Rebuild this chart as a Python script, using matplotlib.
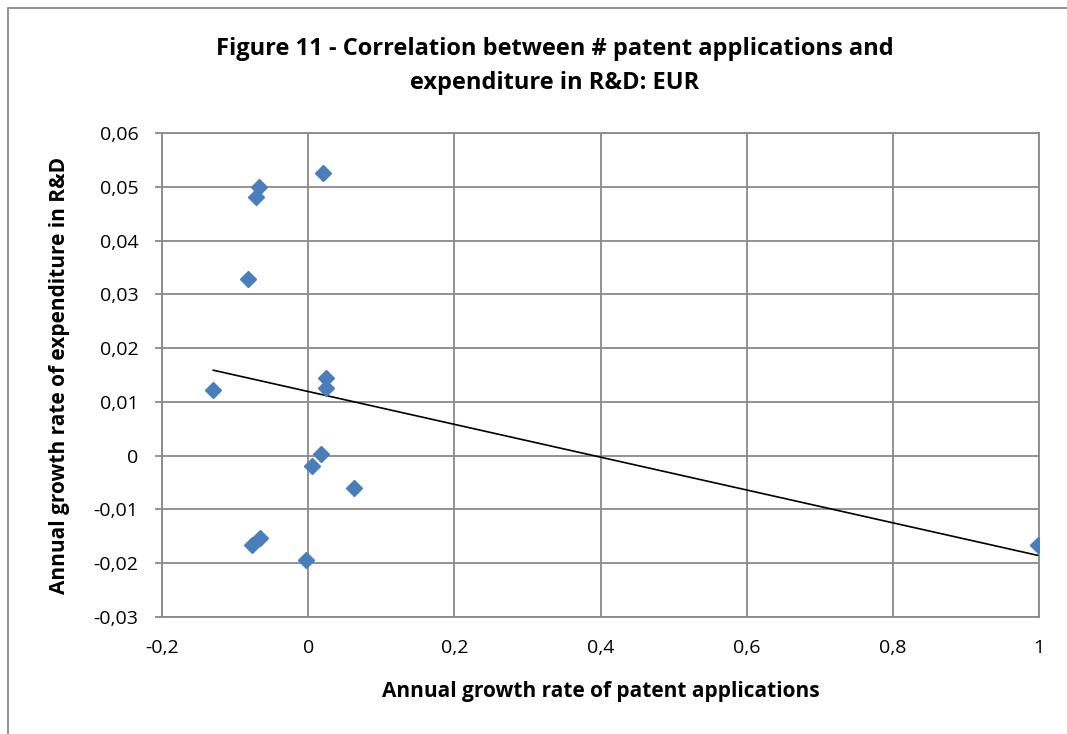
import numpy as np
import matplotlib
matplotlib.use("Agg")
import matplotlib.pyplot as plt
from matplotlib.ticker import FuncFormatter, MultipleLocator
from matplotlib.patches import Rectangle

plt.rcParams['font.family'] = ['Open Sans', 'DejaVu Sans']

# annual growth rates
patent_growth = [0.0207, -0.0673, -0.0714, -0.0823, -0.1298, 0.0239, 0.0239,
                 0.0179, 0.0056, 0.0622, -0.0659, -0.0765, -0.0026, 0.998]
rd_growth = [0.0526, 0.0500, 0.0481, 0.0329, 0.0122, 0.0145, 0.0125,
             0.0004, -0.0020, -0.0061, -0.0154, -0.0166, -0.0194, -0.0167]

title = "Figure 11 - Correlation between # patent applications and\nexpenditure in R&D: EUR"
xlab = "Annual growth rate of patent applications"
ylab = "Annual growth rate of expenditure in R&D"

grid_col = "#898989"


def comma(v, pos):
    s = "%g" % (round(v, 4) + 0.0)
    return s.replace(".", ",")


fig = plt.figure(figsize=(10.67, 7.34), dpi=100)
ax = fig.add_axes([162 / 1067, 1 - 617 / 734, 877 / 1067, 484 / 734])

x = np.array(patent_growth)
y = np.array(rd_growth)

# linear trendline (least squares) over the data span
k, b = np.polyfit(x, y, 1)
xs = np.array([x.min(), x.max()])
ax.plot(xs, k * xs + b, color="black", lw=1.2, zorder=3)

ax.plot(x, y, linestyle="none", marker="D", markersize=8,
        color="#4A7EBB", markeredgecolor="#4A7EBB", zorder=4)

ax.set_xlim(-0.2, 1.0)
ax.set_ylim(-0.03, 0.06)
ax.xaxis.set_major_locator(MultipleLocator(0.2))
ax.yaxis.set_major_locator(MultipleLocator(0.01))
ax.xaxis.set_major_formatter(FuncFormatter(comma))
ax.yaxis.set_major_formatter(FuncFormatter(comma))

ax.grid(True, color=grid_col, lw=1.3)
ax.set_axisbelow(True)
for sp in ax.spines.values():
    sp.set_color(grid_col)
    sp.set_linewidth(1.3)

ax.tick_params(axis="y", length=5, width=1.3, color=grid_col, pad=12, labelsize=14)
ax.tick_params(axis="x", length=0, pad=16, labelsize=14)

ax.set_xlabel(xlab, fontsize=15, fontweight="bold", va="center")
ax.xaxis.set_label_coords(0.5, (617 - 692) / 484)
ax.set_ylabel(ylab, fontsize=15, fontweight="bold", va="center", ha="center")
ax.yaxis.set_label_coords((60 - 162) / 877, 0.5)

fig.text(555 / 1067, 1 - 66 / 734, title, ha="center", va="center",
         fontsize=17, fontweight="bold", linespacing=1.6)

# chart area border (only top and left edges fall inside the image)
fig.add_artist(Rectangle((8 / 1067, -0.1), 1.2, 1.1 - 8 / 734,
                         transform=fig.transFigure, fill=False,
                         edgecolor=grid_col, lw=1.3, clip_on=False))

fig.savefig("out.png", dpi=100)
